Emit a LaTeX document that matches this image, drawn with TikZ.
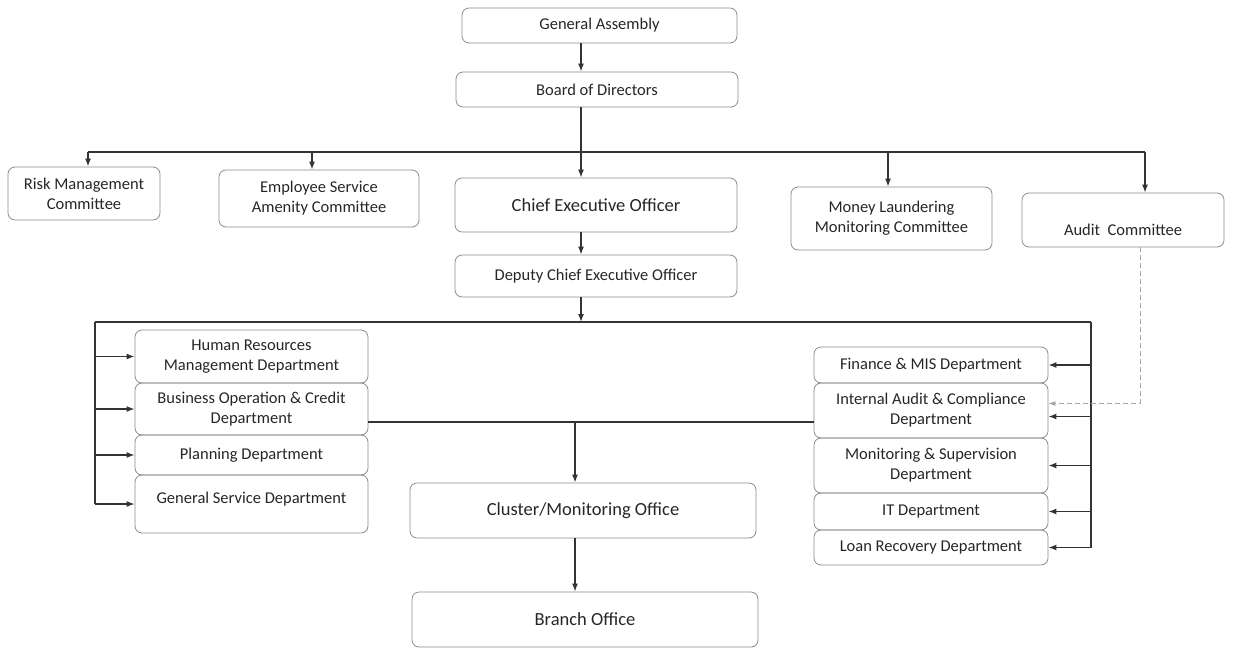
\documentclass[tikz,border=0pt]{standalone}
\usepackage{fontspec}
\setmainfont{Carlito}
\usetikzlibrary{arrows.meta}
\tikzset{
  box/.style={draw=black!45, line width=0.8pt, rounded corners=7pt, align=center,
    inner sep=2pt, text=black!85, font=\fontsize{16.5}{20}\selectfont},
  bigbox/.style={box, font=\fontsize{18.5}{22}\selectfont},
  conn/.style={draw=black!80, line width=1.3pt},
  arr/.style={conn, -{Latex[length=8pt,width=6pt]}},
  dasharr/.style={draw=black!35, line width=0.9pt, dash pattern=on 5pt off 3pt, -{Latex[length=7pt,width=5pt]}}
}
\begin{document}
\begin{tikzpicture}[x=1pt,y=-1pt]
\useasboundingbox (0,0) rectangle (1237,651);
% top chain
\node[box, minimum width=275pt, minimum height=35pt] (ga) at (599.5,25.5) {General Assembly};
\node[box, minimum width=282pt, minimum height=35pt] (bod) at (597,89.5) {Board of Directors};
\node[bigbox, minimum width=282pt, minimum height=54pt] (ceo) at (596,205) {Chief Executive Officer};
\node[box, minimum width=282pt, minimum height=42pt] (dep) at (596,276) {Deputy Chief Executive Officer};
% committees
\node[box, minimum width=152pt, minimum height=53pt] (risk) at (84,193.5) {Risk Management\\Committee};
\node[box, minimum width=200pt, minimum height=57pt] (esa) at (319,198.5) {Employee Service\\Amenity Committee};
\node[box, minimum width=201pt, minimum height=63pt] (ml) at (891.5,218.5) {Money Laundering\\Monitoring Committee};
\node[box, minimum width=202pt, minimum height=54pt, text height=35pt, text depth=4pt] (audit) at (1123,220) {Audit\ \ Committee};
% left departments
\node[box, minimum width=233pt, minimum height=53pt] (hr) at (251.5,356.5) {Human Resources\\Management Department};
\node[box, minimum width=233pt, minimum height=52pt] (bo) at (251.5,409) {Business Operation \& Credit\\Department};
\node[box, minimum width=233pt, minimum height=40pt] (pl) at (251.5,455) {Planning Department};
\node[box, minimum width=233pt, minimum height=58pt, text height=12pt, text depth=13pt] (gs) at (251.5,504) {General Service Department};
% right departments
\node[box, minimum width=234pt, minimum height=36pt] (fin) at (931,365) {Finance \& MIS Department};
\node[box, minimum width=234pt, minimum height=55pt] (ia) at (931,410.5) {Internal Audit \& Compliance\\Department};
\node[box, minimum width=234pt, minimum height=55pt] (ms) at (931,465.5) {Monitoring \& Supervision\\Department};
\node[box, minimum width=234pt, minimum height=37pt] (it) at (931,511.5) {IT Department};
\node[box, minimum width=234pt, minimum height=35pt] (lr) at (931,547.5) {Loan Recovery Department};
% offices
\node[bigbox, minimum width=346pt, minimum height=55pt] (clu) at (583,510.5) {Cluster/Monitoring Office};
\node[bigbox, minimum width=346pt, minimum height=55pt] (br) at (585,619.5) {Branch Office};
% coordinates
\coordinate (ax) at (581,0);
\coordinate (cl) at (88,152);
\coordinate (cr) at (1145,152);
\coordinate (ex) at (312,152);
\coordinate (mx) at (888,152);
\coordinate (tl) at (95,322);
\coordinate (tr) at (1091,322);
\coordinate (cx) at (575,422);
\coordinate (dx) at (1140,0);
\coordinate (ias) at ([yshift=-6pt]ia.east);
\coordinate (iad) at ([yshift=7pt]ia.east);
% top chain arrows
\draw[arr] (ga.south -| ax) -- (bod.north -| ax);
\draw[arr] (bod.south -| ax) -- (ceo.north -| ax);
\draw[arr] (ceo.south -| ax) -- (dep.north -| ax);
\draw[arr] (dep.south -| ax) -- (ax |- tl);
% committees line
\draw[conn] (cl) -- (cr);
\draw[arr] (cl) -- (cl |- risk.north);
\draw[arr] (ex) -- (ex |- esa.north);
\draw[arr] (mx) -- (mx |- ml.north);
\draw[arr] (cr) -- (cr |- audit.north);
% department line
\draw[conn] (tl) -- (tr);
\draw[conn] (tl) -- (tl |- gs.west);
\draw[conn] (tr) -- (tr |- lr.east);
\draw[arr] (tl |- hr.west) -- (hr.west);
\draw[arr] (tl |- bo.west) -- (bo.west);
\draw[arr] (tl |- pl.west) -- (pl.west);
\draw[arr] (tl |- gs.west) -- (gs.west);
\draw[arr] (tr |- fin.east) -- (fin.east);
\draw[arr] (tr |- ias) -- (ias);
\draw[arr] (tr |- ms.east) -- (ms.east);
\draw[arr] (tr |- it.east) -- (it.east);
\draw[arr] (tr |- lr.east) -- (lr.east);
% audit committee to internal audit
\draw[dasharr] (audit.south -| dx) |- (iad);
% middle line to offices
\draw[conn] (bo.east |- cx) -- (ia.west |- cx);
\draw[arr] (cx) -- (cx |- clu.north);
\draw[arr] (clu.south -| cx) -- (br.north -| cx);
\end{tikzpicture}
\end{document}
